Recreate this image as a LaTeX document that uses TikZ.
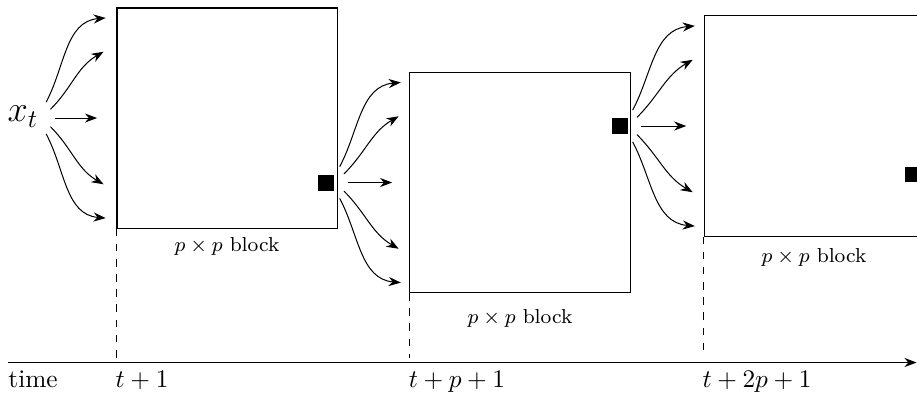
\documentclass[tikz,border=0pt]{standalone}
\usepackage{amsmath,amssymb}
\usepackage{tikz}
\usetikzlibrary{arrows.meta,positioning}

\begin{document}
\begin{tikzpicture}[>=Stealth,block/.style={draw,minimum size=3.056cm,inner sep=0pt},dot/.style={fill=black,minimum size=.22cm,inner sep=0pt},tick/.style={anchor=base west,inner sep=0pt},lbl/.style={font=\footnotesize}]
\useasboundingbox (0,0) rectangle (12.736,5.5);
% blocks
\node[block] (b1) at (3.153,3.861) {};
\node[block] (b2) at (7.222,2.965) {};
\node[block] (b3) at (11.306,3.75) {};
\node[dot] (s1) at (4.528,2.958) {};
\node[dot] (s2) at (8.611,3.75) {};
\node[dot] (s3) at (12.68,3.076) {};
\node[lbl,below=0pt of b1] (l1) {$p\times p$ block};
\node[lbl,below=3pt of b2] (l2) {$p\times p$ block};
\node[lbl,below=1pt of b3] (l3) {$p\times p$ block};
\node[anchor=west,inner sep=0pt,font=\Large] (xt) at (0.1,3.88) {$x_t$};
\coordinate (o1) at ([xshift=2pt]xt.east |- b1.center);
\coordinate (o2) at (b1.east |- b2.center);
\coordinate (o3) at (b2.east |- b3.center);
% fans
\draw[->] ([shift={(.03,.22)}]o1) to[out=62,in=185] ([shift={(-.15,1.39)}]b1.west);
\draw[->] ([shift={(.09,.12)}]o1) to[out=45,in=210] ([shift={(-.18,.92)}]b1.west);
\draw[->] ([xshift=.15cm]o1) -- ([xshift=-.27cm]b1.west);
\draw[->] ([shift={(.09,-.12)}]o1) to[out=-45,in=150] ([shift={(-.18,-.92)}]b1.west);
\draw[->] ([shift={(.03,-.22)}]o1) to[out=-62,in=175] ([shift={(-.15,-1.39)}]b1.west);
\draw[->] ([shift={(.03,.22)}]o2) to[out=62,in=185] ([shift={(-.12,1.39)}]b2.west);
\draw[->] ([shift={(.09,.12)}]o2) to[out=45,in=210] ([shift={(-.15,.92)}]b2.west);
\draw[->] ([xshift=.15cm]o2) -- ([xshift=-.24cm]b2.west);
\draw[->] ([shift={(.09,-.12)}]o2) to[out=-45,in=150] ([shift={(-.15,-.92)}]b2.west);
\draw[->] ([shift={(.03,-.22)}]o2) to[out=-62,in=175] ([shift={(-.12,-1.39)}]b2.west);
\draw[->] ([shift={(.03,.22)}]o3) to[out=62,in=185] ([shift={(-.12,1.39)}]b3.west);
\draw[->] ([shift={(.09,.12)}]o3) to[out=45,in=210] ([shift={(-.15,.92)}]b3.west);
\draw[->] ([xshift=.15cm]o3) -- ([xshift=-.24cm]b3.west);
\draw[->] ([shift={(.09,-.12)}]o3) to[out=-45,in=150] ([shift={(-.15,-.92)}]b3.west);
\draw[->] ([shift={(.03,-.22)}]o3) to[out=-62,in=175] ([shift={(-.12,-1.39)}]b3.west);
% time axis
\coordinate (a0) at (0.11,0.465);
\coordinate (a1) at (12.73,0.465);
\coordinate (de) at (0,0.53);
\draw[->] (a0) -- (a1);
\draw[dashed] (b1.south west) -- (b1.south west |- de);
\draw[dashed] (b2.south west) -- (b2.south west |- de);
\draw[dashed] (b3.south west) -- (b3.south west |- de);
\node[tick] (tm) at (0.11,0.125) {time};
\node[tick] (t1) at (1.6,0.125) {$t+1$};
\node[tick] (t2) at (5.67,0.125) {$t+p+1$};
\node[tick] (t3) at (9.75,0.125) {$t+2p+1$};
\end{tikzpicture}
\end{document}
